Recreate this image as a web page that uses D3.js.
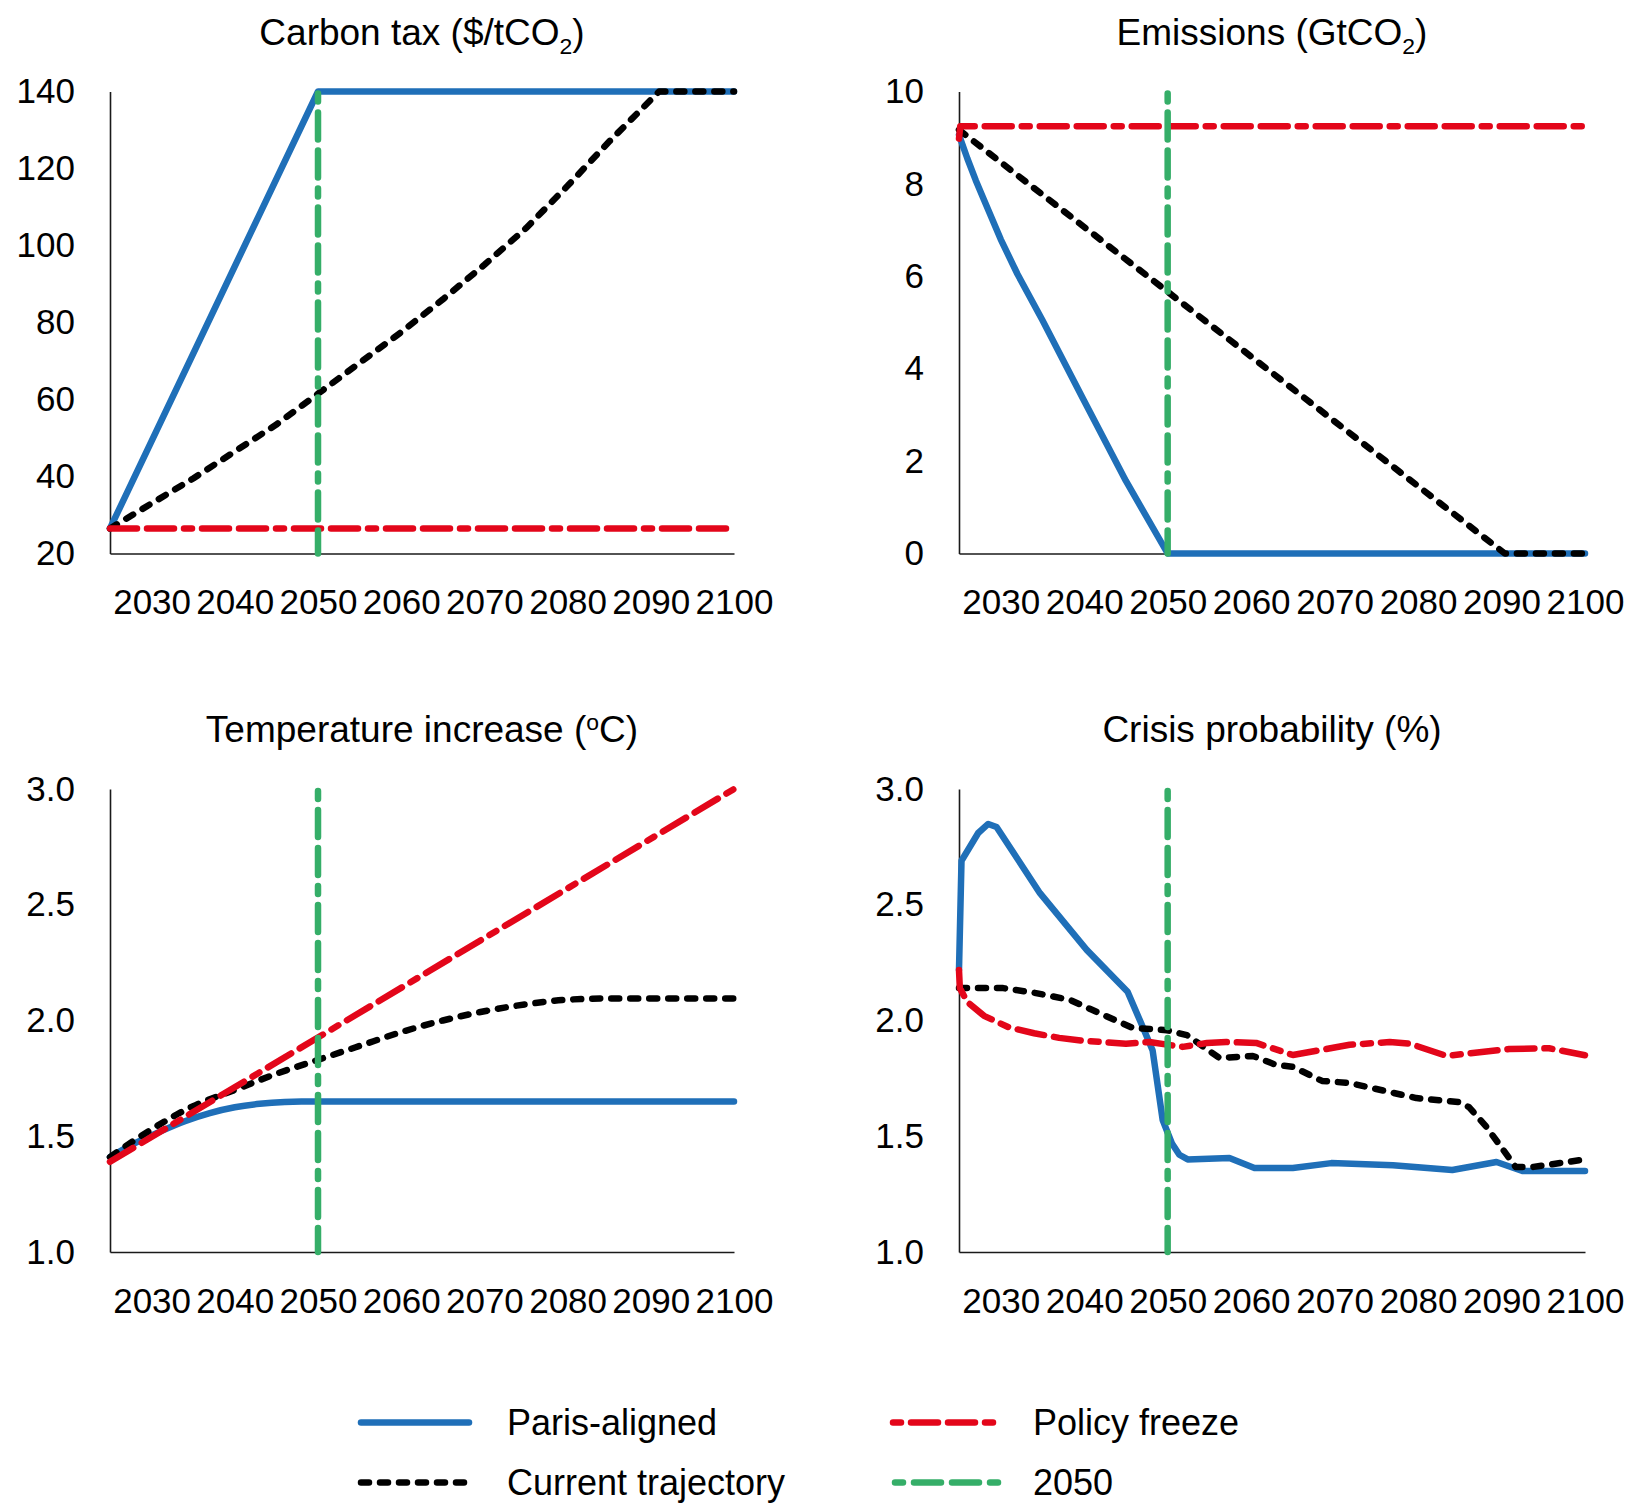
<!DOCTYPE html>
<html><head><meta charset="utf-8">
<script src="https://cdn.jsdelivr.net/npm/d3@7"></script>
<style>
html,body{margin:0;padding:0;background:#fff;}
svg{display:block;font-family:"Liberation Sans",Arial,sans-serif;}
</style>
</head><body>
<svg id="chart" width="1628" height="1504"></svg>
<script>
// ---------------- DATA ----------------
const yearDomain = [2025, 2100];
const xTicks = [2030, 2040, 2050, 2060, 2070, 2080, 2090, 2100];
const markerYear = [2050];

const taxTicks = [20, 40, 60, 80, 100, 120, 140];
const taxParis = [[2025,26.5],[2050,140],[2100,140]];
const taxFreeze = [[2025,26.5],[2100,26.5]];
const taxCurrent = [[2025,26.5],[2030,33],[2035,39.5],[2040,46.5],[2045,53.5],[2050,61.5],[2055,69.5],[2060,77.5],[2065,86],[2070,95],[2075,104.5],[2080,115.5],[2085,127],[2091,140],[2100,140]];

const emisTicks = [0, 2, 4, 6, 8, 10];
const emisParis = [[2025,9.06],[2026,8.55],[2027,8.08],[2028,7.65],[2030,6.8],[2032,6.05],[2035,5.05],[2040,3.3],[2045,1.57],[2050,0],[2100,0]];
const emisFreeze = [[2025,8.98],[2025.15,9.25],[2100,9.25]];
const emisCurrent = [[2025,9.17],[2090.4,0],[2100,0]];

const tempTicks = [1.0, 1.5, 2.0, 2.5, 3.0];
const tempParis = [[2025,1.41],[2028,1.47],[2031,1.52],[2034,1.565],[2037,1.6],[2040,1.625],[2043,1.64],[2046,1.648],[2048,1.65],[2100,1.65]];
const tempFreeze = [[2025,1.39],[2100,3.0]];
const tempCurrent = [[2025,1.41],[2030,1.53],[2035,1.63],[2040,1.70],[2045,1.77],[2050,1.83],[2055,1.89],[2060,1.95],[2065,2.0],[2070,2.04],[2075,2.07],[2080,2.09],[2085,2.095],[2100,2.095]];

const crisisTicks = [1.0, 1.5, 2.0, 2.5, 3.0];
const crisisParis = [[2025,2.218],[2025.3,2.69],[2027.3,2.81],[2028.5,2.849],[2029.5,2.836],[2034.7,2.55],[2040.3,2.305],[2045.2,2.124],[2046.8,1.99],[2048.2,1.87],[2049.4,1.57],[2050.5,1.47],[2051.4,1.42],[2052.4,1.40],[2057.4,1.406],[2060.4,1.363],[2065,1.363],[2069.6,1.384],[2077,1.375],[2084.1,1.354],[2089.4,1.389],[2092.5,1.35],[2100,1.35]];
const crisisFreeze = [[2025,2.218],[2025.1,2.14],[2026,2.08],[2028,2.02],[2031,1.97],[2034,1.945],[2037,1.925],[2040,1.912],[2045,1.90],[2047.8,1.907],[2051.8,1.886],[2054.7,1.903],[2057,1.907],[2060.6,1.903],[2065,1.851],[2071.8,1.895],[2076.6,1.907],[2079,1.90],[2083.4,1.847],[2090.9,1.877],[2095.7,1.88],[2100,1.85]];
const crisisCurrent = [[2025,2.14],[2030.3,2.14],[2034,2.12],[2038.3,2.089],[2041,2.045],[2045.8,1.968],[2049.9,1.958],[2052.3,1.937],[2056.2,1.838],[2060.2,1.847],[2063,1.808],[2065,1.80],[2068.5,1.739],[2071.8,1.73],[2079.8,1.665],[2084.9,1.648],[2086.1,1.626],[2088.2,1.54],[2091.7,1.367],[2093.7,1.367],[2100,1.40]];

const legendLabels = ["Paris-aligned", "Policy freeze", "Current trajectory", "2050"];

// ---------------- STYLE / LAYOUT ----------------
const colX = [[110, 734], [959, 1585]];
const rowY = [[91.5, 553.5], [789, 1252]];
const COLORS = {paris: "#1F6FB8", freeze: "#E3061A", current: "#000000", marker: "#35AE68"};
const DASH = {paris: null, freeze: "27,10,27,10,8,10", current: "8,11", marker: "27,11,27,11,8,11"};
const LW = 6.5;
const TICK_FS = 35, TITLE_FS = 37, LEGEND_FS = 36;

const panels = [
  {title: [["Carbon tax ($/tCO"], ["2","sub"], [")"]], col: 0, row: 0, yDomain: [20, 140], yTicks: taxTicks, fmt: d3.format("d"),
   series: [["paris", taxParis, d3.curveLinear], ["current", taxCurrent, d3.curveLinear], ["freeze", taxFreeze, d3.curveLinear]]},
  {title: [["Emissions (GtCO"], ["2","sub"], [")"]], col: 1, row: 0, yDomain: [0, 10], yTicks: emisTicks, fmt: d3.format("d"),
   series: [["paris", emisParis, d3.curveLinear], ["current", emisCurrent, d3.curveLinear], ["freeze", emisFreeze, d3.curveLinear]]},
  {title: [["Temperature increase ("], ["o","sup"], ["C)"]], col: 0, row: 1, yDomain: [1, 3], yTicks: tempTicks, fmt: d3.format(".1f"),
   series: [["paris", tempParis, d3.curveMonotoneX], ["current", tempCurrent, d3.curveMonotoneX], ["freeze", tempFreeze, d3.curveLinear]]},
  {title: [["Crisis probability (%)"]], col: 1, row: 1, yDomain: [1, 3], yTicks: crisisTicks, fmt: d3.format(".1f"),
   series: [["paris", crisisParis, d3.curveLinear], ["current", crisisCurrent, d3.curveLinear], ["freeze", crisisFreeze, d3.curveLinear]]}
];

const svg = d3.select("#chart");

panels.forEach(p => {
  const [x0, x1] = colX[p.col];
  const [yt, yb] = rowY[p.row];
  const x = d3.scaleLinear().domain(yearDomain).range([x0, x1]);
  const y = d3.scaleLinear().domain(p.yDomain).range([yb, yt]);
  const g = svg.append("g");

  // title
  const t = g.append("text")
    .attr("x", (x0 + x1) / 2)
    .attr("y", yt - 47)
    .attr("text-anchor", "middle")
    .attr("font-size", TITLE_FS)
    .attr("fill", "#000");
  let shift = 0;
  p.title.forEach(([txt, kind]) => {
    const ts = t.append("tspan").text(txt);
    if (kind === "sub") { ts.attr("font-size", TITLE_FS * 0.62).attr("dy", 9 - shift); shift = 9; }
    else if (kind === "sup") { ts.attr("font-size", TITLE_FS * 0.62).attr("dy", -12 - shift); shift = -12; }
    else { if (shift !== 0) ts.attr("dy", -shift); shift = 0; }
  });

  // axes
  const ax = g.append("g").attr("transform", `translate(0,${yb})`)
    .call(d3.axisBottom(x).tickValues(xTicks).tickFormat(d3.format("d")).tickSize(0).tickSizeOuter(0).tickPadding(36));
  const ay = g.append("g").attr("transform", `translate(${x0},0)`)
    .call(d3.axisLeft(y).tickValues(p.yTicks).tickFormat(p.fmt).tickSize(0).tickSizeOuter(0).tickPadding(35));
  [ax, ay].forEach(a => {
    a.attr("font-size", TICK_FS).attr("font-family", null);
    a.select(".domain").attr("stroke", "#1a1a1a").attr("stroke-width", 1.6);
    a.selectAll("text").attr("fill", "#000");
  });

  // series
  p.series.forEach(([key, data, curve]) => {
    const line = d3.line().x(d => x(d[0])).y(d => y(d[1])).curve(curve);
    g.append("path").datum(data)
      .attr("d", line)
      .attr("fill", "none")
      .attr("stroke", COLORS[key])
      .attr("stroke-width", LW)
      .attr("stroke-linecap", "round")
      .attr("stroke-linejoin", "round")
      .attr("stroke-dasharray", DASH[key]);
  });

  // 2050 marker
  g.selectAll(".marker").data(markerYear).join("line")
    .attr("class", "marker")
    .attr("x1", d => x(d)).attr("x2", d => x(d))
    .attr("y1", y(p.yDomain[1])).attr("y2", y(p.yDomain[0]))
    .attr("stroke", COLORS.marker)
    .attr("stroke-width", LW)
    .attr("stroke-linecap", "round")
    .attr("stroke-dasharray", DASH.marker)
    .attr("stroke-dashoffset", 74);
});

// legend
const legendKeys = ["paris", "freeze", "current", "marker"];
const legCols = [358, 890], legTextX = [507, 1033], legRows = [1422.5, 1482.5];
const lg = svg.append("g");
legendKeys.forEach((k, i) => {
  const c = i % 2, lx = legCols[c], ly = legRows[Math.floor(i / 2)];
  lg.append("line")
    .attr("x1", lx + 3).attr("x2", lx + 111)
    .attr("y1", ly).attr("y2", ly)
    .attr("stroke", COLORS[k])
    .attr("stroke-width", LW)
    .attr("stroke-linecap", "round")
    .attr("stroke-dasharray", DASH[k])
    .attr("stroke-dashoffset", (k === "freeze" || k === "marker") ? 74 : 0);
  lg.append("text")
    .attr("x", legTextX[c]).attr("y", ly + 12.5)
    .attr("font-size", LEGEND_FS)
    .attr("fill", "#000")
    .text(legendLabels[i]);
});
</script>
</body></html>
